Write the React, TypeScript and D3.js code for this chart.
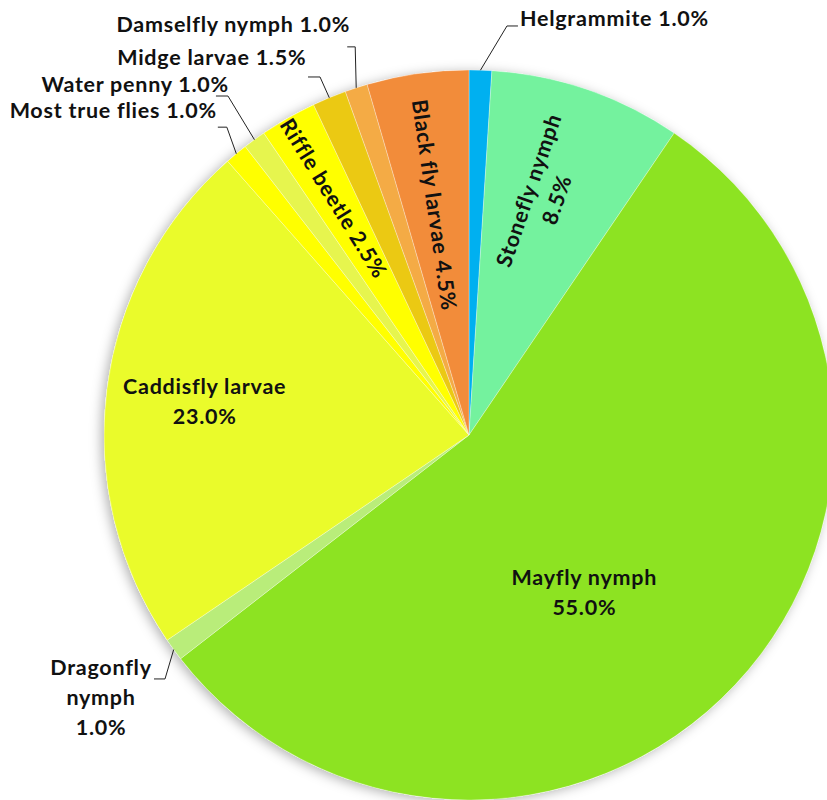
import React from "react";
import * as d3 from "d3";

const names = [
  "Helgrammite",
  "Stonefly nymph",
  "Mayfly nymph",
  "Dragonfly nymph",
  "Caddisfly larvae",
  "Most true flies",
  "Water penny",
  "Riffle beetle",
  "Midge larvae",
  "Damselfly nymph",
  "Black fly larvae",
];
const values = [1.0, 8.5, 55.0, 1.0, 23.0, 1.0, 1.0, 2.5, 1.5, 1.0, 4.5];
const colors = [
  "#00b0f0",
  "#74f29e",
  "#8de322",
  "#b9ed7a",
  "#eafb2b",
  "#ffff00",
  "#e6f54e",
  "#ffff00",
  "#ebc913",
  "#f4ab45",
  "#f28c3a",
];

type Inside = { kind: "in"; rf: number; da: number; rot: number | null; lines: string[] };
type Outside = {
  kind: "out";
  elbow: [number, number];
  end: [number, number];
  text: [number, number];
  anchor: "start" | "end" | "middle";
  lines: string[];
};

const W = 827;
const H = 800;
const CX = 469;
const CY = 435;
const R = 365;
const FONT = "Lato, 'Open Sans', sans-serif";
const FS = 21.5;
const LS = 0.75;
const LH = 29.5;

function labelFor(i: number, mid: number): Inside | Outside {
  const pct = values[i].toFixed(1) + "%";
  const n = names[i];
  const deg = (mid * 180) / Math.PI;
  switch (n) {
    case "Helgrammite":
      return { kind: "out", elbow: [26.5, -44.2], end: [37.5, -44.2], text: [39.5, -44], anchor: "start", lines: [n + " " + pct] };
    case "Damselfly nymph":
      return { kind: "out", elbow: [-1, -41], end: [-9, -41], text: [-6, -56], anchor: "end", lines: [n + " " + pct] };
    case "Midge larvae":
      return { kind: "out", elbow: [-9.3, -20.8], end: [-21.3, -20.8], text: [-23, -33], anchor: "end", lines: [n + " " + pct] };
    case "Water penny":
      return { kind: "out", elbow: [-26.5, -43.7], end: [-38.5, -43.7], text: [-25.5, -47.7], anchor: "end", lines: [n + " " + pct] };
    case "Most true flies":
      return { kind: "out", elbow: [-9.5, -26.6], end: [-18.5, -26.6], text: [-19.5, -35.6], anchor: "end", lines: [n + " " + pct] };
    case "Dragonfly nymph":
      return { kind: "out", elbow: [-8.7, 29.4], end: [-19.7, 29.4], text: [-72.7, 25.4], anchor: "middle", lines: ["Dragonfly", "nymph", pct] };
    case "Stonefly nymph":
      return { kind: "in", rf: 0.688, da: -1.8, rot: deg - 90, lines: [n, pct] };
    case "Black fly larvae":
      return { kind: "in", rf: 0.637, da: -0.5, rot: deg - 270, lines: [n + " " + pct] };
    case "Riffle beetle":
      return { kind: "in", rf: 0.747, da: -0.1, rot: deg - 272, lines: [n + " " + pct] };
    case "Mayfly nymph":
      return { kind: "in", rf: 0.535, da: 10.6, rot: null, lines: [n, pct] };
    default:
      return { kind: "in", rf: 0.73, da: 0, rot: null, lines: [n, pct] };
  }
}

function pt(a: number, r: number): [number, number] {
  return [CX + r * Math.sin(a), CY - r * Math.cos(a)];
}

export default function App() {
  const pie = d3
    .pie<number>()
    .sort(null)
    .value((d) => d)
    .startAngle(0)
    .endAngle(2 * Math.PI);
  const arcs = pie(values);
  const arc = d3.arc<d3.PieArcDatum<number>>().innerRadius(0).outerRadius(R);

  return (
    <svg
      width={W}
      height={H}
      style={{ position: "absolute", left: 0, top: 0, background: "#fff" }}
      fontFamily={FONT}
    >
      <defs>
        <filter id="sh" x="-20%" y="-20%" width="140%" height="140%">
          <feDropShadow dx={-3} dy={2} stdDeviation={6} floodColor="#000" floodOpacity={0.3} />
        </filter>
      </defs>
      <g filter="url(#sh)">
        <circle cx={CX} cy={CY} r={R} fill="#fff" />
      </g>
      <g transform={`translate(${CX},${CY})`}>
        {arcs.map((a, i) => (
          <path key={i} d={arc(a) || ""} fill={colors[i]} stroke="#fff" strokeWidth={0.5} strokeOpacity={0.6} />
        ))}
      </g>
      {arcs.map((a, i) => {
        const mid = (a.startAngle + a.endAngle) / 2;
        const lab = labelFor(i, mid);
        if (lab.kind === "out") {
          const [ex, ey] = pt(mid, R);
          const p1: [number, number] = [ex + lab.elbow[0], ey + lab.elbow[1]];
          const p2: [number, number] = [ex + lab.end[0], ey + lab.end[1]];
          const line = d3.line()([[ex, ey], p1, p2]) || "";
          return (
            <g key={"l" + i}>
              <path d={line} fill="none" stroke="#222" strokeWidth={1} />
              <text
                x={ex + lab.text[0]}
                y={ey + lab.text[1]}
                textAnchor={lab.anchor}
                fontSize={FS}
                fontWeight="bold"
                letterSpacing={LS}
                fill="#111"
              >
                {lab.lines.map((s, k) => (
                  <tspan key={k} x={ex + lab.text[0]} dy={k === 0 ? 0 : 30}>
                    {s}
                  </tspan>
                ))}
              </text>
            </g>
          );
        }
        const ang = mid + (lab.da * Math.PI) / 180;
        const [lx, ly] = pt(ang, R * lab.rf);
        const n = lab.lines.length;
        return (
          <text
            key={"l" + i}
            transform={`translate(${lx},${ly})${lab.rot !== null ? ` rotate(${lab.rot})` : ""}`}
            textAnchor="middle"
            fontSize={FS}
            fontWeight="bold"
            letterSpacing={LS}
            fill="#111"
          >
            {lab.lines.map((s, k) => (
              <tspan key={k} x={0} y={(k - (n - 1) / 2) * LH} dy="0.35em">
                {s}
              </tspan>
            ))}
          </text>
        );
      })}
    </svg>
  );
}
